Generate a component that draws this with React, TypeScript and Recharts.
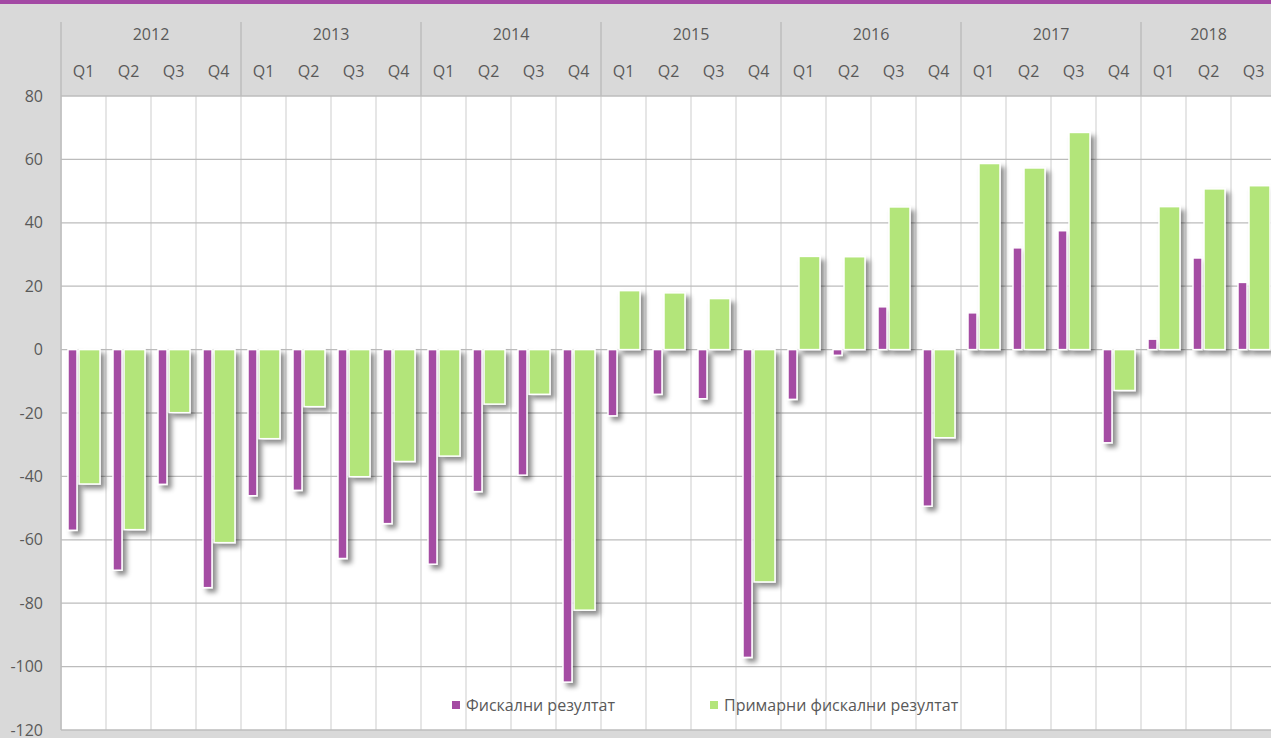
import React from 'react';
import { BarChart, Bar, XAxis, YAxis, CartesianGrid, Legend } from 'recharts';

const years = ['2012', '2013', '2014', '2015', '2016', '2017', '2018'];
const quartersPerYear = [4, 4, 4, 4, 4, 4, 3];
const quarterLabels = ['Q1', 'Q2', 'Q3', 'Q4'];

const fiscal = [
  -57.0, -69.6, -42.5, -75.1,
  -46.1, -44.4, -65.9, -54.9,
  -67.7, -44.8, -39.6, -104.9,
  -20.9, -14.1, -15.5, -97.1,
  -15.7, -1.8, 13.5, -49.4,
  11.6, 32.1, 37.5, -29.4,
  3.3, 28.9, 21.2,
];

const primary = [
  -42.4, -56.8, -19.9, -60.9,
  -28.1, -18.0, -40.1, -35.3,
  -33.6, -17.2, -14.1, -82.2,
  18.6, 17.9, 16.1, -73.3,
  29.4, 29.3, 45.0, -27.8,
  58.7, 57.3, 68.5, -12.9,
  45.1, 50.7, 51.7,
];

const seriesNames = ['Фискални резултат', 'Примарни фискални резултат'];
const seriesColors = ['#a44ba3', '#b3e57a'];
const yTicks = [-120, -100, -80, -60, -40, -20, 0, 20, 40, 60, 80];

const data: { key: string; year: string; q: string; qIndex: number; nInYear: number; fiscal: number; primary: number }[] = [];
{
  let i = 0;
  years.forEach((y, yi) => {
    for (let qi = 0; qi < quartersPerYear[yi]; qi++) {
      data.push({
        key: `${y}-${quarterLabels[qi]}`,
        year: y,
        q: quarterLabels[qi],
        qIndex: qi,
        nInYear: quartersPerYear[yi],
        fiscal: fiscal[i],
        primary: primary[i],
      });
      i++;
    }
  });
}

const CHART_W = 1276;
const CHART_H = 738;
const Y_AXIS_W = 61;
const X_AXIS_H = 96;
const BAND = (CHART_W - Y_AXIS_W) / data.length;
const FONT = '"Open Sans", sans-serif';
const TEXT = '#595959';

const HeaderTick = (props: any) => {
  const { x, y, payload } = props;
  const d = data.find((r) => r.key === payload.value);
  if (!d) return null;
  const left = x - BAND / 2;
  return (
    <g>
      <text x={x} y={y - 25} textAnchor="middle" dominantBaseline="central" fontSize={16} fill={TEXT} fontFamily={FONT}>
        {d.q}
      </text>
      {d.qIndex === 0 && (
        <>
          <line x1={left} x2={left} y1={y - 74} y2={y} stroke="#bdbdbd" strokeWidth={1.5} />
          <text
            x={left + (d.nInYear * BAND) / 2}
            y={y - 62}
            textAnchor="middle"
            dominantBaseline="central"
            fontSize={16}
            fill={TEXT}
            fontFamily={FONT}
          >
            {d.year}
          </text>
        </>
      )}
    </g>
  );
};

const ShadowBar = (props: any) => {
  const { x, y, width, height, fill } = props;
  if (width == null || height == null) return null;
  const h = Math.abs(height);
  const top = height < 0 ? y + height : y;
  return (
    <rect x={x} y={top} width={width} height={h} fill={fill} stroke="#ffffff" strokeWidth={1.5} filter="url(#barShadow)" />
  );
};

const LegendContent = () => (
  <div style={{ position: 'relative', height: 20, fontFamily: FONT, fontSize: 16, color: TEXT }}>
    {seriesNames.map((n, i) => (
      <div
        key={n}
        style={{ position: 'absolute', left: i === 0 ? 0 : 258, top: 0, display: 'flex', alignItems: 'center', whiteSpace: 'nowrap' }}
      >
        <span style={{ display: 'inline-block', width: 8, height: 8, background: seriesColors[i], marginRight: 6 }} />
        <span>{n}</span>
      </div>
    ))}
  </div>
);

export default function App() {
  return (
    <div
      style={{
        position: 'fixed',
        left: 0,
        top: 0,
        width: 1271,
        height: 738,
        overflow: 'hidden',
        background: '#d9d9d9',
      }}
    >
      <div style={{ position: 'absolute', left: 0, top: 0, width: 1271, height: 4, background: '#a349a4', zIndex: 2 }} />
      <BarChart
        width={CHART_W}
        height={CHART_H}
        data={data}
        margin={{ top: 0, right: 0, bottom: 8, left: 0 }}
        barGap={2}
      >
        <defs>
          <filter id="barShadow" filterUnits="userSpaceOnUse" x={0} y={0} width={1400} height={800}>
            <feDropShadow dx={4} dy={4} stdDeviation={2.4} floodColor="#000000" floodOpacity={0.45} />
          </filter>
        </defs>
        <CartesianGrid
          fill="#ffffff"
          stroke="#d9d9d9"
          strokeWidth={1.3}
          horizontal={false}
          verticalCoordinatesGenerator={({ offset }: any) =>
            data.map((_, i) => offset.left + (i * offset.width) / data.length).concat([offset.left + offset.width])
          }
        />
        <CartesianGrid stroke="#bcbcbc" strokeWidth={1.3} vertical={false} />
        <XAxis
          dataKey="key"
          orientation="top"
          height={X_AXIS_H}
          axisLine={false}
          tickLine={false}
          tickSize={0}
          tickMargin={0}
          interval={0}
          tick={<HeaderTick />}
        />
        <YAxis
          width={Y_AXIS_W}
          domain={[-120, 80]}
          ticks={yTicks}
          interval={0}
          axisLine={{ stroke: '#bcbcbc', strokeWidth: 1.5 }}
          tickLine={false}
          tickSize={0}
          tickMargin={18}
          tick={{ fontSize: 16, fill: TEXT, fontFamily: FONT }}
        />
        <Legend
          verticalAlign="middle"
          align="center"
          content={<LegendContent />}
          wrapperStyle={{ position: 'absolute', left: 452, top: 694, width: 560, height: 20 }}
        />
        <Bar dataKey="fiscal" name={seriesNames[0]} fill={seriesColors[0]} barSize={9} isAnimationActive={false} shape={<ShadowBar />} />
        <Bar dataKey="primary" name={seriesNames[1]} fill={seriesColors[1]} barSize={21} isAnimationActive={false} shape={<ShadowBar />} />
      </BarChart>
    </div>
  );
}
